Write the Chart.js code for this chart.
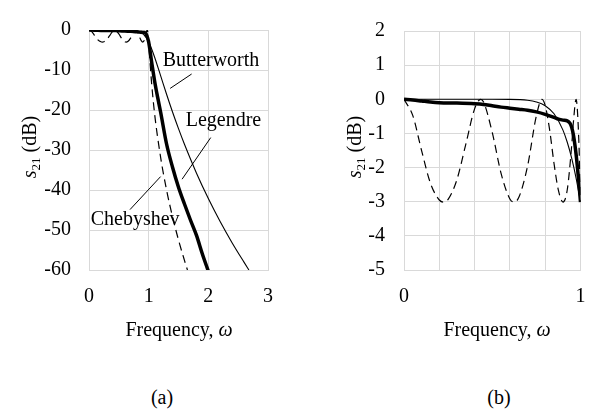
<!DOCTYPE html>
<html>
<head>
<meta charset="utf-8">
<script src="https://cdn.jsdelivr.net/npm/chart.js@4.4.1/dist/chart.umd.min.js"></script>
<style>
  body { margin: 0; width: 597px; height: 413px; overflow: hidden; background: #fff; position: relative; font-family: 'Liberation Serif', 'Times New Roman', serif; color: #000; }
  .wrap { position: absolute; top: 0; width: 300px; height: 320px; }
  .txt { position: absolute; width: 200px; text-align: center; font-size: 20px; line-height: 24px; white-space: nowrap; }
  .ytitle { transform: rotate(-90deg); }
  sub { font-size: 13px; vertical-align: -4px; line-height: 0; }
</style>
</head>
<body>
<div class="wrap" style="left:0"><canvas id="chartA"></canvas></div>
<div class="wrap" style="left:300px"><canvas id="chartB"></canvas></div>

<div class="txt ytitle" style="left:-71px;top:135px"><i>s</i><sub>21</sub> (dB)</div>
<div class="txt ytitle" style="left:254px;top:135px"><i>s</i><sub>21</sub> (dB)</div>
<div class="txt" style="left:79px;top:317px">Frequency, <i>ω</i></div>
<div class="txt" style="left:397px;top:317px">Frequency, <i>ω</i></div>
<div class="txt" style="left:62px;top:385px">(a)</div>
<div class="txt" style="left:399px;top:385px">(b)</div>

<script>
// Данные: частота (ω) и затухание s21 (дБ)
const chebW  = [0, 0.05, 0.1, 0.15, 0.2, 0.2225, 0.25, 0.3, 0.35, 0.4, 0.434, 0.45, 0.5, 0.55, 0.6, 0.6235, 0.65, 0.7, 0.75, 0.782, 0.8, 0.825, 0.85, 0.875, 0.901, 0.925, 0.95, 0.96, 0.975, 0.99, 1.0, 1.02, 1.05, 1.1, 1.2, 1.3, 1.4, 1.5, 1.6, 1.65];
const chebDb = [0, -0.48, -1.51, -2.46, -2.95, -3.01, -2.93, -2.35, -1.32, -0.28, 0, -0.07, -0.97, -2.17, -2.92, -3.01, -2.88, -1.96, -0.48, 0, -0.18, -0.89, -1.88, -2.67, -3.01, -2.65, -1.36, -0.66, 0, -1.14, -3.01, -7.51, -13.4, -21.0, -31.8, -40.0, -46.7, -52.5, -57.6, -60];

const buttW  = [0, 0.5, 0.6, 0.7, 0.75, 0.8, 0.85, 0.9, 0.925, 0.95, 0.975, 1.0, 1.05, 1.1, 1.2, 1.3, 1.4, 1.5, 1.6, 1.8, 2.0, 2.2, 2.4, 2.6, 2.68];
const buttDb = [0, -0.0003, -0.003, -0.029, -0.077, -0.187, -0.425, -0.896, -1.258, -1.725, -2.308, -3.01, -4.74, -6.81, -11.41, -16.06, -20.50, -24.67, -28.58, -35.74, -42.14, -47.94, -53.23, -58.10, -60];

const legW  = [0, 0.05, 0.1, 0.15, 0.2, 0.3, 0.4, 0.45, 0.5, 0.55, 0.6, 0.65, 0.7, 0.75, 0.8, 0.85, 0.875, 0.9, 0.925, 0.94, 0.95, 0.96, 0.97, 0.98, 0.99, 1.0, 1.05, 1.1, 1.15, 1.2, 1.3, 1.4, 1.5, 1.6, 1.7, 1.8, 1.9, 2.0];
const legDb = [0, -0.02, -0.05, -0.08, -0.10, -0.11, -0.13, -0.15, -0.19, -0.23, -0.26, -0.29, -0.32, -0.37, -0.44, -0.53, -0.58, -0.61, -0.63, -0.70, -0.82, -1.05, -1.40, -1.85, -2.40, -3.01, -8.0, -12.8, -16.8, -20.5, -28.5, -34.3, -39.3, -43.5, -47.5, -51.3, -56.0, -60.3];

// Подписи кривых на графике (a)
const seriesNames = ['Legendre', 'Chebyshev', 'Butterworth'];

const yTicksA = { min: -60, max: 0, step: 10 };
const xTicksA = { min: 0, max: 3, step: 1 };
const yTicksB = { min: -5, max: 2, step: 1 };
const xTicksB = { min: 0, max: 1, step: 0.2 };

const FONT = "'Liberation Serif', 'Times New Roman', serif";
const GRID = '#d9d9d9';

function pts(w, db, maxW) {
    const out = [];
    for (let i = 0; i < w.length; i++) {
        if (maxW === undefined || w[i] <= maxW + 1e-9) out.push({ x: w[i], y: db[i] });
    }
    return out;
}

function buildDatasets(maxW) {
    return [
        { label: seriesNames[0], data: pts(legW, legDb, maxW), borderColor: '#000', borderWidth: 3.5 },
        { label: seriesNames[1], data: pts(chebW, chebDb, maxW), borderColor: '#000', borderWidth: 1.2, borderDash: [8, 5] },
        { label: seriesNames[2], data: pts(buttW, buttDb, maxW), borderColor: '#000', borderWidth: 1.1 }
    ];
}

function axis(t, pad, fitProp, fitVal, cb) {
    return {
        type: 'linear',
        min: t.min, max: t.max,
        ticks: {
            stepSize: t.step, padding: pad, color: '#000',
            font: { family: FONT, size: 20 },
            callback: cb || (v => v)
        },
        grid: { color: GRID, lineWidth: 1, drawTicks: false },
        border: { color: GRID, width: 1 },
        afterFit: s => { s[fitProp] = fitVal; }
    };
}

// Подписи с выносными линиями (координаты в единицах осей)
const labelsPlugin = {
    id: 'curveLabels',
    afterDatasetsDraw(chart) {
        const { ctx, scales: { x, y } } = chart;
        const marks = [
            { text: 'Butterworth', at: [1.235, -9.0], line: [1.72, -11.0, 1.36, -14.6] },
            { text: 'Legendre', at: [1.62, -24.0], line: [2.04, -26.9, 1.56, -37.3] },
            { text: 'Chebyshev', at: [0.028, -48.7], line: [0.687, -44.9, 1.2, -36.65] }
        ];
        ctx.save();
        ctx.font = '20px ' + FONT;
        ctx.fillStyle = '#000';
        ctx.strokeStyle = '#000';
        ctx.lineWidth = 1;
        ctx.textBaseline = 'alphabetic';
        ctx.textAlign = 'left';
        marks.forEach(m => {
            ctx.fillText(m.text, x.getPixelForValue(m.at[0]), y.getPixelForValue(m.at[1]));
            ctx.beginPath();
            ctx.moveTo(x.getPixelForValue(m.line[0]), y.getPixelForValue(m.line[1]));
            ctx.lineTo(x.getPixelForValue(m.line[2]), y.getPixelForValue(m.line[3]));
            ctx.stroke();
        });
        ctx.restore();
    }
};

const common = {
    responsive: true,
    maintainAspectRatio: false,
    animation: false,
    elements: { point: { radius: 0 }, line: { cubicInterpolationMode: 'monotone', fill: false } },
    plugins: { legend: { display: false }, tooltip: { enabled: false } }
};

new Chart(document.getElementById('chartA'), {
    type: 'line',
    data: { datasets: buildDatasets() },
    plugins: [labelsPlugin],
    options: Object.assign({}, common, {
        layout: { padding: { left: 0, top: 19, right: 32, bottom: 0 } },
        scales: {
            x: axis(xTicksA, 14.5, 'height', 50),
            y: axis(yTicksA, 18, 'width', 89)
        }
    })
});

new Chart(document.getElementById('chartB'), {
    type: 'line',
    data: { datasets: buildDatasets(1) },
    options: Object.assign({}, common, {
        layout: { padding: { left: 0, top: 19, right: 7, bottom: 0 } },
        scales: {
            x: axis(xTicksB, 14.5, 'height', 50, v => (Math.abs(v) < 1e-9 || Math.abs(v - 1) < 1e-9) ? Math.round(v) : ''),
            y: axis(yTicksB, 19, 'width', 104)
        }
    })
});
</script>
</body>
</html>
